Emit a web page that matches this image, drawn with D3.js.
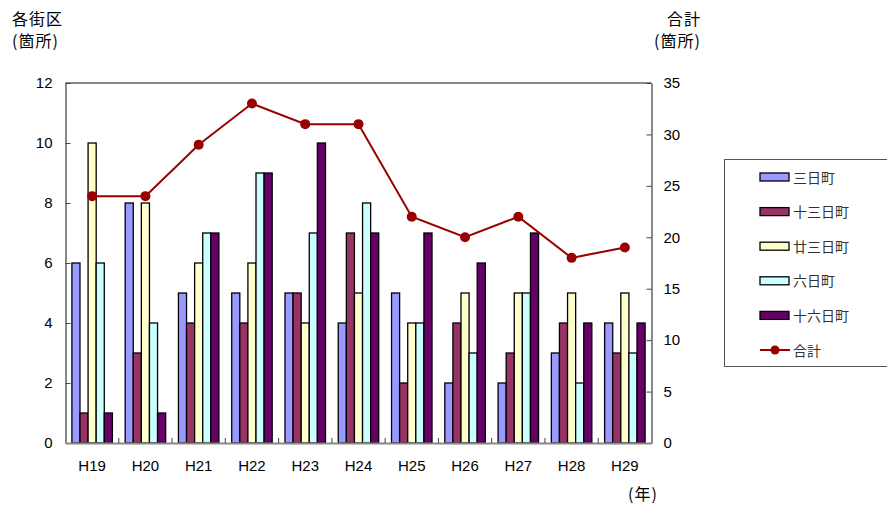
<!DOCTYPE html>
<html><head><meta charset="utf-8">
<script src="https://cdn.jsdelivr.net/npm/d3@7"></script>
<style>
body{margin:0;background:#fff;}
text{font-family:"Liberation Sans Narrow","Liberation Sans","Noto Sans CJK JP",sans-serif;}
.cjk{font-family:"Noto Sans CJK JP",sans-serif;}
</style></head>
<body>
<svg id="c" width="887" height="506"></svg>
<script>
const years = ["H19","H20","H21","H22","H23","H24","H25","H26","H27","H28","H29"];
const seriesNames = ["三日町","十三日町","廿三日町","六日町","十六日町"];
const mikkamachi     = [6,8,5,5,5,4,5,2,2,3,4];
const jusanichimachi = [1,3,4,4,5,7,2,4,3,4,3];
const nijusanichi    = [10,8,6,6,4,5,4,5,5,5,5];
const muikamachi     = [6,4,7,9,7,8,4,3,5,2,3];
const jurokunichi    = [1,1,7,9,10,7,7,6,7,4,4];
const total          = [24,24,29,33,31,31,22,20,22,18,19];
const totalName = "合計";
const leftTicks = [0,2,4,6,8,10,12];
const rightTicks = [0,5,10,15,20,25,30,35];
const colors = ["#9999FF","#993366","#FFFFCC","#CCFFFF","#660066"];
const lineColor = "#990000";

const series = [mikkamachi,jusanichimachi,nijusanichi,muikamachi,jurokunichi];
const svg = d3.select("#c");
const L=65.5, R=651.5, T=83, B=443;

const x = d3.scaleBand().domain(years).range([L,R]).paddingInner(0.24).paddingOuter(0.12);
const xOuter = d3.scaleBand().domain(years).range([L,R]);
const xs = d3.scaleBand().domain(d3.range(5)).range([0,x.bandwidth()]);
const yL = d3.scaleLinear().domain([0,12]).range([B,T]);
const yR = d3.scaleLinear().domain([0,35]).range([B,T]);

// bars
series.forEach((vals,si)=>{
  svg.append("g").selectAll("rect").data(vals).join("rect")
    .attr("x",(d,i)=>x(years[i])+xs(si))
    .attr("y",d=>yL(d))
    .attr("width",xs.bandwidth())
    .attr("height",d=>B-yL(d))
    .attr("fill",colors[si]).attr("stroke","#000").attr("stroke-width",1.3);
});

// frame
const gray="#888";
svg.append("line").attr("x1",L).attr("x2",R).attr("y1",T).attr("y2",T).attr("stroke",gray).attr("stroke-width",2);
const numFont = "'Liberation Sans Narrow','Liberation Sans',sans-serif";
// left axis
const gl = svg.append("g").attr("transform",`translate(${L},0)`)
  .call(d3.axisLeft(yL).tickValues(leftTicks).tickSizeInner(-5).tickSizeOuter(0).tickPadding(13));
gl.select(".domain").attr("stroke",gray).attr("stroke-width",2);
gl.selectAll(".tick line").attr("stroke","#444").attr("stroke-width",1);
gl.selectAll("text").attr("font-size",15).attr("fill","#000").style("font-family",numFont);
// right axis
const gr = svg.append("g").attr("transform",`translate(${R},0)`)
  .call(d3.axisRight(yR).tickValues(rightTicks).tickSizeInner(-5).tickSizeOuter(0).tickPadding(12));
gr.select(".domain").attr("stroke",gray).attr("stroke-width",2);
gr.selectAll(".tick line").attr("stroke","#444").attr("stroke-width",1);
gr.selectAll("text").attr("font-size",15).attr("fill","#000").style("font-family",numFont);
// bottom axis
const gb = svg.append("g").attr("transform",`translate(0,${B})`)
  .call(d3.axisBottom(x).tickSize(0).tickPadding(17));
gb.select(".domain").attr("stroke",gray).attr("stroke-width",2);
gb.selectAll("text").attr("font-size",15).attr("fill","#000").style("font-family",numFont);
svg.append("g").selectAll("line").data(years.slice(1)).join("line")
  .attr("x1",d=>xOuter(d)).attr("x2",d=>xOuter(d)).attr("y1",B).attr("y2",B-5)
  .attr("stroke","#444").attr("stroke-width",1);

// line
const cx = (d,i)=>x(years[i])+x.bandwidth()/2;
svg.append("path").datum(total)
  .attr("d",d3.line().x(cx).y(d=>yR(d)))
  .attr("fill","none").attr("stroke",lineColor).attr("stroke-width",2);
svg.append("g").selectAll("circle").data(total).join("circle")
  .attr("cx",cx).attr("cy",d=>yR(d)).attr("r",5).attr("fill",lineColor);

// titles
const t = (s,xx,yy)=>svg.append("text").attr("class","cjk").attr("x",xx).attr("y",yy)
  .attr("font-size",16).attr("letter-spacing",1).text(s);
t("各街区",12,25);
t("(箇所)",12,47);
t("合計",667,25);
t("(箇所)",654,47);
t("(年)",628,500);

// legend
const lg = svg.append("g");
lg.append("rect").attr("x",724.5).attr("y",159.5).attr("width",170).attr("height",207)
  .attr("fill","#fff").attr("stroke","#555").attr("stroke-width",1);
const names = seriesNames.concat([totalName]);
const ly = d3.scalePoint().domain(d3.range(6)).range([177,350]);
names.forEach((n,i)=>{
  const yy = ly(i);
  if(i<5){
    lg.append("rect").attr("x",760).attr("y",yy-4).attr("width",29).attr("height",8)
      .attr("fill",colors[i]).attr("stroke","#000").attr("stroke-width",1.3);
  } else {
    lg.append("line").attr("x1",760).attr("x2",790).attr("y1",yy).attr("y2",yy)
      .attr("stroke",lineColor).attr("stroke-width",2);
    lg.append("circle").attr("cx",775).attr("cy",yy).attr("r",4.5).attr("fill",lineColor);
  }
  lg.append("text").attr("class","cjk").attr("x",793).attr("y",yy+5.5)
    .attr("font-size",14).attr("fill","#333").text(n);
});
</script>
</body></html>
